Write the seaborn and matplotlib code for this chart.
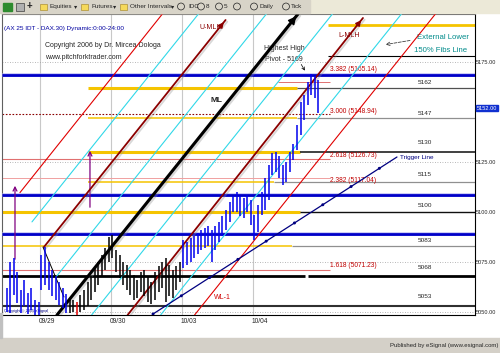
import numpy as np
import pandas as pd
import matplotlib
matplotlib.use("Agg")
import matplotlib.pyplot as plt
import seaborn as sns
from matplotlib import patheffects as pe
from matplotlib.transforms import ScaledTranslation, blended_transform_factory
from matplotlib.patches import Rectangle

sns.set_theme(style="white")
plt.rcParams['font.family'] = ['Liberation Sans', 'DejaVu Sans']

# ---------------- data ----------------
day_labels = ["09/29", "09/30", "10/03", "10/04"]
day_starts = [0, 1, 2, 3]
price_ticks = [5050, 5075, 5100, 5125, 5175]
last_price = 5152

# bar times in days since 09/29 (regular intraday bars)
bar_time = np.round(np.concatenate([
    -0.47 + 0.05 * np.arange(10),
    0.02 + 0.05 * np.arange(20),
    1.02 + 0.05 * np.arange(20),
    2.02 + 0.05 * np.arange(20),
    3.02 + 0.05 * np.arange(19)]), 3)

bar_high = [5062, 5075, 5077, 5070, 5061, 5066, 5059.5, 5062, 5056, 5055,
            5078.5, 5082.5, 5075, 5071, 5068, 5065, 5062, 5059, 5057, 5056,
            5055, 5058.5, 5061, 5065, 5068, 5072, 5075, 5078.5, 5082, 5087.5,
            5088.5, 5081, 5078.5, 5075, 5073.5, 5071, 5068.5, 5066, 5070, 5071,
            5068, 5065, 5070, 5073, 5075, 5077, 5073.5, 5071, 5073, 5075,
            5086, 5085, 5087, 5088, 5089.5, 5091, 5092, 5093, 5091, 5093,
            5095, 5098, 5101, 5105, 5108, 5110, 5108, 5107, 5108.5, 5106,
            5098.5, 5103.5, 5110, 5117, 5123.5, 5129.5, 5130, 5128, 5123.5, 5125,
            5130, 5134, 5143.5, 5155, 5158.5, 5165, 5169, 5168, 5166]
bar_low = [5050, 5049.5, 5058.5, 5054.5, 5049.5, 5053, 5049, 5051, 5048.5, 5048.5,
           5061, 5063.5, 5061, 5058, 5056, 5053.5, 5052, 5049.5, 5049.5, 5050,
           5048.5, 5050, 5051, 5053, 5056, 5060, 5063.5, 5068, 5071, 5075,
           5077, 5070, 5067, 5063.5, 5061, 5058.5, 5056, 5057, 5060, 5058,
           5055, 5054, 5056, 5060, 5062, 5055, 5058, 5057, 5061, 5065,
           5072, 5073.5, 5075, 5077, 5079, 5081, 5082, 5083, 5075, 5081,
           5085, 5088, 5091, 5095, 5100, 5100, 5098, 5097, 5100, 5093.5,
           5086, 5090, 5098.5, 5101, 5106, 5118.5, 5120, 5117, 5113.5, 5115,
           5120, 5126, 5131, 5138.5, 5146, 5153.5, 5158.5, 5157, 5149.5]
bar_group = (["blue"] * 18 + ["black"] * 2 + ["red"] + ["black"] * 29 +
             ["blue"] * 39)

# pitchfork / fib-fan lines: start (time, price) -> end (time, price)
line_names = ["fan_up", "fib1", "U-MLH", "fib2", "ML", "fib3", "L-MLH", "fib4", "WL-1", "handle", "trigger"]
line_t0 = [-0.282, -0.113, 0.056, 0.225, 0.239, 0.727, 1.234, 1.699, 2.177, 0.042, 1.592]
line_p0 = [5109.7, 5095.05, 5082.5, 5067.5, 5048.5, 5048.5, 5048.5, 5048.5, 5048.5, 5082.5, 5049.0]
line_t1 = [1.746, 2.254, 2.614, 3.211, 3.634, 4.141, 4.549, 5.113, 5.592, 0.338, 5.028]
line_p1 = [5200, 5200, 5196, 5200, 5199, 5200, 5197, 5200, 5200, 5057.5, 5127.5]

# pivot-level lines (labelled on the right)
pivot_levels = [5162, 5147, 5130, 5115, 5100, 5083, 5068, 5053]
# blue support/resistance lines
blue_levels = [5168.5, 5108.5, 5089]
# fibonacci extension levels
fib_ratios = ["3.382", "3.000", "2.618", "2.382", "1.618"]
fib_prices = [5165.14, 5148.94, 5126.73, 5117.04, 5071.23]
top_yellow = 5193.5
top_black = 5178

# ---------------- figure ----------------
W, H = 500, 353
fig = plt.figure(figsize=(5, 3.53), dpi=100)
fig.patch.set_facecolor('white')

# toolbar
fig.patches.append(Rectangle((0, 1 - 13 / H), 1, 13 / H, transform=fig.transFigure,
                             color='#ECE9D8', zorder=0))
fig.patches.append(Rectangle((0, 1 - 13 / H), 310 / W, 13 / H, transform=fig.transFigure,
                             color='#D8D4C8', zorder=0))
ty = 1 - 6.5 / H
fig.patches.append(Rectangle((3 / W, 1 - 11 / H), 9 / W, 8 / H, transform=fig.transFigure,
                             color='#2E8B2E', zorder=1))
fig.patches.append(Rectangle((16 / W, 1 - 11 / H), 8 / W, 8 / H, transform=fig.transFigure,
                             fc='#B0B0B0', ec='#404040', lw=0.5, zorder=1))
fig.text(29 / W, ty, "+", fontsize=7, fontweight='bold', va='center', ha='center')
for fx in [40, 81, 120]:
    fig.patches.append(Rectangle((fx / W, 1 - 10 / H), 7 / W, 6 / H, transform=fig.transFigure,
                                 fc='#F5D95A', ec='#A08020', lw=0.4, zorder=1))
tb_items = [(50, "Equities"), (74, "\u25be"), (91, "Futures"), (113, "\u25be"),
            (130, "Other Intervals"), (171, "\u25be"), (188, "IDC"), (206, "8"),
            (224, "5"), (259, "Daily"), (291, "Tick")]
for fx, s in tb_items:
    fig.text(fx / W, ty, s, fontsize=4.6, va='center', ha='left')
for fx in [181, 201, 219, 237, 254, 286]:
    fig.text(fx / W, ty, " ", fontsize=3, va='center', ha='center',
             bbox=dict(boxstyle='circle,pad=0.35', fc='none', ec='#202020', lw=0.5))

# footer
fig.patches.append(Rectangle((0, 0), 1, 15 / H, transform=fig.transFigure,
                             color='#D4D0C8', zorder=0))
fig.patches.append(Rectangle((0, 15 / H), 2 / W, 25 / H, transform=fig.transFigure,
                             color='#C0C0C0', zorder=0))
fig.text(498 / W, 7 / H, "Published by eSignal (www.esignal.com)", fontsize=4.3,
         ha='right', va='center')

# main axes
ax = fig.add_axes([2 / W, 1 - 315 / H, 473 / W, 301 / H])
ax.set_facecolor('white')
X0, X1 = -0.535, 6.127
Y0, Y1 = 5048.5, 5199
ax.set_xlim(X0, X1)
ax.set_ylim(Y0, Y1)

# grid
ax.vlines(day_starts, Y0, Y1, color='#c8c8c8', lw=0.8, zorder=0)
for v in price_ticks:
    ax.axhline(v, color='#a0a0a0', ls=(0, (1, 2)), lw=0.6, zorder=0)

shadow = [pe.SimpleLineShadow(offset=(1.2, -1.2), shadow_color='#909090', alpha=0.35), pe.Normal()]

# horizontal level lines
xr = X1
seg = [
    (pivot_levels[0], '#F5C400', 2.2, 0.676, 3.62), (pivot_levels[0], '#505050', 0.9, 3.62, xr),
    (pivot_levels[1], '#F5C400', 1.1, 0.676, 3.62), (pivot_levels[1], '#909090', 0.9, 3.62, xr),
    (pivot_levels[2], '#F5C400', 2.2, 0.676, 3.66), (pivot_levels[2], '#202020', 1.2, 3.66, xr),
    (pivot_levels[3], '#F5C400', 1.1, 0.676, 3.30), (pivot_levels[3], '#909090', 0.9, 3.30, xr),
    (pivot_levels[4], '#F5C400', 2.2, X0, 3.66), (pivot_levels[4], '#101010', 1.0, 3.66, xr),
    (pivot_levels[5], '#F5C400', 1.1, X0, 3.55), (pivot_levels[5], '#909090', 0.9, 3.55, xr),
    (pivot_levels[6], '#000000', 2.0, X0, 3.73), (pivot_levels[6], '#000000', 2.0, 3.775, xr),
    (pivot_levels[7], '#303030', 1.5, X0, xr),
    (top_yellow, '#F5C400', 2.0, 4.06, xr),
    (top_black, '#000000', 0.8, 4.06, xr),
]
for v, c, lw, a, b in seg:
    ax.hlines(v, a, b, color=c, lw=lw, zorder=2)

fib_style = [('#E07070', '-', 0.7, 3.35), ('#8B0000', (0, (1.5, 1.5)), 0.8, X0),
             ('#E07070', '-', 0.8, X0), ('#F0A0A0', '-', 0.7, X0), ('#E07070', '-', 0.8, X0)]
for p, (c, ls, lw, a) in zip(fib_prices, fib_style):
    ax.hlines(p, a, 4.085, color=c, ls=ls, lw=lw, zorder=2)

for v in blue_levels:
    ax.hlines(v, X0, xr, color='#0000C8', lw=2.0, zorder=3, path_effects=[
        pe.Stroke(linewidth=2.8, foreground='#A8A8F0', alpha=0.6), pe.Normal()])

# diagonal lines with seaborn
line_style = {
    "fan_up": ('#E00000', 0.8, None), "fib1": ('#30D8E8', 0.8, None),
    "U-MLH": ('#8B0000', 1.3, shadow), "fib2": ('#30D8E8', 0.8, None),
    "ML": ('#000000', 2.2, shadow), "fib3": ('#30D8E8', 0.8, None),
    "L-MLH": ('#8B0000', 1.3, shadow), "fib4": ('#30D8E8', 0.8, None),
    "WL-1": ('#E00000', 0.8, None), "handle": ('#000000', 0.7, None),
    "trigger": ('#000080', 0.9, None),
}
lines_df = pd.DataFrame({"name": line_names, "t0": line_t0, "p0": line_p0,
                         "t1": line_t1, "p1": line_p1})
for _, r in lines_df.iterrows():
    c, lw, eff = line_style[r["name"]]
    d = pd.DataFrame({"t": [r.t0, r.t1], "p": [r.p0, r.p1]})
    sns.lineplot(data=d, x="t", y="p", ax=ax, color=c, lw=lw, sort=False, zorder=4,
                 path_effects=eff)
    if r["name"] == "trigger":
        ax.plot([r.t0, r.t1], [r.p0, r.p1], color='#000080', lw=2.2,
                ls=(0, (0.01, 11)), solid_capstyle='round', dash_capstyle='round', zorder=4)

# arrowheads on ends of U-MLH, ML, L-MLH
for nm, col, ms in [("U-MLH", '#8B0000', 8), ("L-MLH", '#8B0000', 8), ("ML", '#000000', 12)]:
    r = lines_df[lines_df.name == nm].iloc[0]
    ax.annotate('', xy=(r.t1, r.p1), xytext=(r.t1 - 0.12, r.p1 - 0.12 * 44.4),
                arrowprops=dict(arrowstyle='-|>', color=col, lw=1.0, mutation_scale=ms),
                zorder=6, annotation_clip=False)

# price bars
cmap = {"blue": '#0000EE', "black": '#000000', "red": '#E00000'}
ax.vlines(bar_time, bar_low, bar_high, colors=[cmap[g] for g in bar_group], lw=1.1, zorder=5)

# purple arrows
for t, a, b in [(-0.352, 5075, 5114.5), (0.704, 5101, 5132)]:
    ax.annotate('', xy=(t, b), xytext=(t, a),
                arrowprops=dict(arrowstyle='->', color='#800080', lw=0.9, mutation_scale=7))

# texts
fs = 5.0
ax.text(0.07, 5183.5, "Copyright 2006 by Dr. Mircea Dologa", fontsize=fs, va='center')
ax.text(0.07, 5177.5, "www.pitchforktrader.com", fontsize=fs, va='center')
ax.text(-0.5, 5192, "(AX 25 IDT - DAX.30) Dynamic:0:00-24:00", fontsize=4.6,
        color='#0000A0', va='center')
ax.text(2.408, 5192.5, "U-MLH", fontsize=fs, color='#8B0000', ha='center', va='center')
ax.text(3.437, 5182, "Highest High", fontsize=fs, ha='center', va='center')
ax.text(3.437, 5176.5, "Pivot - 5169", fontsize=fs, ha='center', va='center')
ax.annotate('', xy=(3.75, 5169.5), xytext=(3.66, 5175),
            arrowprops=dict(arrowstyle='->', color='black', lw=0.5, mutation_scale=5))
ax.text(4.352, 5188.5, "L-MLH", fontsize=fs, color='#8B0000', ha='center', va='center')
ax.text(5.676, 5187.5, "External Lower", fontsize=5.6, color='#008B8B', ha='center', va='center')
ax.text(5.648, 5181, "150% Fibs Line", fontsize=5.6, color='#008B8B', ha='center', va='center')
ax.annotate('', xy=(4.83, 5183.5), xytext=(5.25, 5186),
            arrowprops=dict(arrowstyle='->', color='#404040', lw=0.6, ls='--', mutation_scale=6))
ax.text(2.479, 5156, "ML", fontsize=6, fontweight='bold', ha='center', va='center')
ax.text(5.07, 5127.5, "Trigger Line", fontsize=4.6, color='#000080', ha='left', va='center')
ax.text(2.563, 5057.5, "WL-1", fontsize=fs, color='#D00000', ha='center', va='center')
fib_text_y = [5171.5, 5150.5, 5128.5, 5116, 5073.5]
for rr, p, yy in zip(fib_ratios, fib_prices, fib_text_y):
    ax.text(4.085, yy, f"{rr} ({p:.2f})", fontsize=4.8, color='#C00000', ha='left', va='center')
lvl_text_y = [5165, 5149.5, 5135, 5119, 5103.5, 5086, 5072.5, 5058]
for lv, yy in zip(pivot_levels, lvl_text_y):
    ax.text(5.423, yy, str(lv), fontsize=4.6, ha='center', va='center')
ax.text(-0.51, 5050.5, "Copyright \u00a9 2005 eSignal", fontsize=2.8, color='#000080', va='center')

# axes / ticks
ax.yaxis.tick_right()
ax.set_yticks(price_ticks)
ax.set_yticklabels([f"{v:.2f}" for v in price_ticks])
ax.set_xticks(day_starts)
ax.set_xticklabels(day_labels)
ax.tick_params(axis='x', labelsize=4.8, length=0, pad=2)
ax.tick_params(axis='y', labelsize=4.1, length=0, pad=0.8)
for lab in ax.get_xticklabels():
    lab.set_transform(lab.get_transform() + ScaledTranslation(0.07, 0, fig.dpi_scale_trans))
ax.set_xlabel("")
ax.set_ylabel("")
trans = blended_transform_factory(ax.transAxes, ax.transData)
ax.text(1.004, last_price, f"{last_price:.2f}", transform=trans, fontsize=4.1, color='white',
        ha='left', va='center', bbox=dict(boxstyle='square,pad=0.12', fc='#1030D0', ec='#1030D0'))
for s in ax.spines.values():
    s.set_visible(True)
    s.set_color('#606060')
    s.set_linewidth(0.8)
ax.spines['right'].set_color('black')
ax.spines['bottom'].set_color('black')

fig.savefig("out.png", dpi=100)
